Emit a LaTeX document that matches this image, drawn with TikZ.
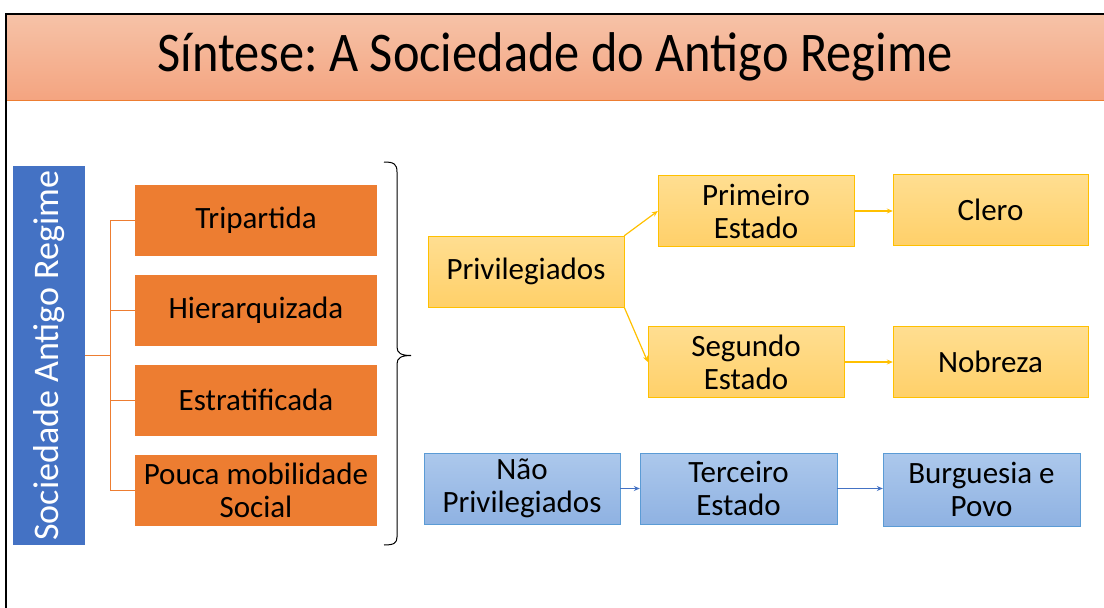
\documentclass[tikz,border=0pt]{standalone}
\usepackage{fontspec}
\setmainfont{Carlito}
\frenchspacing
\usetikzlibrary{arrows.meta}
\definecolor{titletop}{RGB}{246,194,167}
\definecolor{titlebot}{RGB}{244,164,128}
\definecolor{sideblue}{RGB}{68,114,196}
\definecolor{featorange}{RGB}{237,125,49}
\definecolor{goldline}{RGB}{255,192,0}
\definecolor{goldtop}{RGB}{255,222,145}
\definecolor{goldbot}{RGB}{255,208,105}
\definecolor{bluetop}{RGB}{172,200,236}
\definecolor{bluebot}{RGB}{143,178,226}
\definecolor{blueline}{RGB}{91,155,213}

\begin{document}
\begin{tikzpicture}[
x=1pt, y=-1pt,
% boxes
box/.style={rectangle, inner sep=0, align=center, font=\fontsize{31}{33}\selectfont, text=black},
feature/.style={box, fill=featorange, minimum width=242pt, minimum height=71pt},
privbox/.style={box, draw=goldline, thin, top color=goldtop, bottom color=goldbot, minimum width=196pt, minimum height=71pt},
commonbox/.style={box, draw=blueline, thin, top color=bluetop, bottom color=bluebot, minimum width=197pt, minimum height=71pt},
% connectors
branch/.style={featorange, thin},
privarrow/.style={goldline, line width=1.2pt, -{Stealth[length=6pt, width=5pt]}},
commonarrow/.style={sideblue, line width=1.2pt, -{Stealth[length=6pt, width=5pt]}}
]

\useasboundingbox (0,0) rectangle (1104,608);

% title band
\shade[top color=titletop, bottom color=titlebot] (6,15) rectangle (1104,100);
\draw[featorange, thin] (6,100) -- (1104,100);
\node[xscale=0.9, transform shape] (title) at (555,57) {\fontsize{56}{60}\selectfont Síntese: A Sociedade do Antigo Regime};
\draw[line width=2pt] (6,608) -- (6,14) -- (1104,14);

% left side
\node[fill=sideblue, minimum width=72pt, minimum height=379pt, inner sep=0] (society) at (49,355.5) {};
\node[rotate=90, text=white, font=\fontsize{36}{38}\selectfont] (societytext) at (society.center) {Sociedade Antigo Regime};

\node[feature] (tri) at (256,220) {Tripartida};
\node[feature] (hier) at (256,310) {Hierarquizada};
\node[feature] (estr) at (256,400) {Estratificada};
\node[feature] (pouca) at (256,490) {Pouca mobilidade\\Social};

\coordinate (fork) at (110,355.5);
\draw[branch] (society.east) -- (fork);
\draw[branch] (fork|-tri.west) -- (fork|-pouca.west);
\foreach \f in {tri,hier,estr,pouca}
  \draw[branch] (fork|-\f.west) -- (\f.west);

% brace
\coordinate (bracetip) at (411,355.5);
\draw[line width=1pt] (384,162) .. controls (394,162) and (397,164) .. (397,172) -- (397,347)
  .. controls (397,353) and (401,355.5) .. (bracetip)
  .. controls (401,355.5) and (397,358) .. (397,364) -- (397,537)
  .. controls (397,543) and (394,545) .. (384,545);

% privileged
\node[privbox] (priv) at (526,271.5) {Privilegiados};
\node[privbox] (prim) at (756,211) {Primeiro\\Estado};
\node[privbox] (seg) at (746,362) {Segundo\\Estado};
\node[privbox, minimum width=195pt] (clero) at (990.5,210) {Clero};
\node[privbox, minimum width=195pt] (nobreza) at (990.5,362) {Nobreza};

\draw[privarrow] (priv.north east) -- (prim.west);
\draw[privarrow] (priv.south east) -- (seg.west);
\draw[privarrow] (prim.east) -- (clero.west|-prim.east);
\draw[privarrow] (seg.east) -- (nobreza.west|-seg.east);

% non privileged
\node[commonbox, minimum width=196pt] (naopriv) at (522,488.5) {Não\\Privilegiados};
\node[commonbox] (terc) at (738.5,488.5) {Terceiro\\Estado};
\node[commonbox, minimum height=73pt] (burg) at (981.5,489.5) {Burguesia e\\Povo};

\draw[commonarrow] (naopriv.east) -- (terc.west);
\draw[commonarrow] (terc.east) -- (burg.west|-terc.east);

\end{tikzpicture}
\end{document}
